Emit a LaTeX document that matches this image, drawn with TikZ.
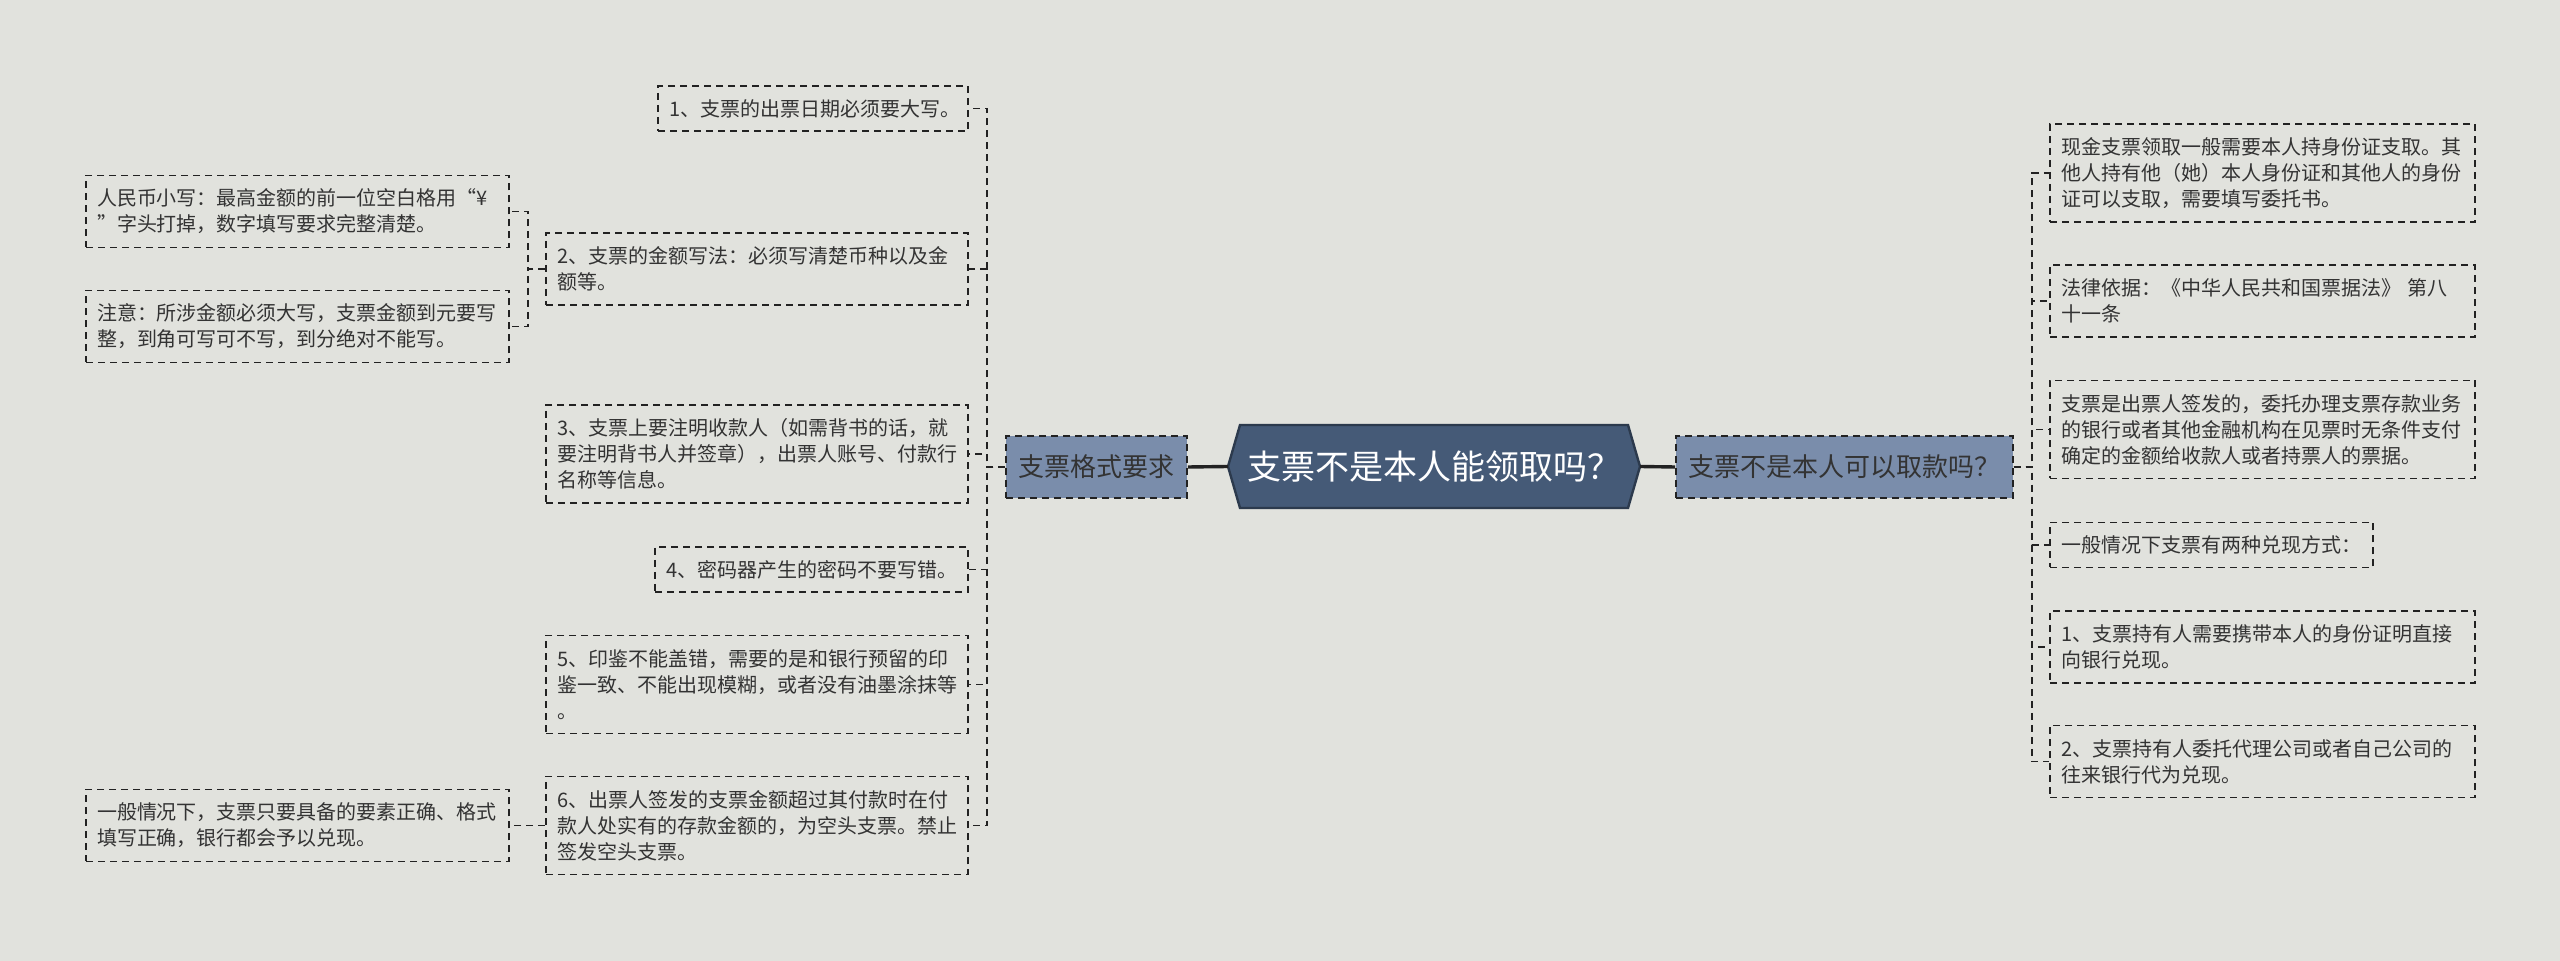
\documentclass[tikz,border=0pt]{standalone}
\usepackage{fontspec}
\setmainfont{Noto Sans CJK SC}
\definecolor{bg}{HTML}{E1E2DD}
\definecolor{mainfill}{HTML}{455A77}
\definecolor{mainborder}{HTML}{2C3A4D}
\definecolor{subfill}{HTML}{7A8DAB}
\definecolor{ink}{HTML}{333333}
\definecolor{linkc}{HTML}{222222}
\begin{document}
\begin{tikzpicture}[x=0.5pt,y=-0.5pt,
  leaf/.style={draw=linkc, line width=0.9pt, dash pattern=on 3.5pt off 2.5pt,
    inner xsep=5.5pt, inner ysep=0pt, align=left, text=ink, anchor=center,
    font=\fontsize{10pt}{13pt}\selectfont, text width=201pt},
  one/.style={minimum height=22.5pt},
  two/.style={minimum height=36pt},
  three/.style={minimum height=49pt},
  sub/.style={draw=linkc, line width=0.9pt, dash pattern=on 3.5pt off 2.5pt,
    fill=subfill, text=ink, inner sep=0pt, minimum height=31pt,
    font=\fontsize{13pt}{16pt}\selectfont},
  conn/.style={draw=linkc, line width=0.9pt, dash pattern=on 3.5pt off 2.5pt},
  mainlink/.style={draw=linkc, line width=1.7pt}
]
\fill[bg] (0,0) rectangle (2560,961);
\useasboundingbox (0,0) rectangle (2560,961);

% central hexagon
\fill[mainfill, draw=mainborder, line width=1.2pt]
  (1228,466.5) -- (1240,425) -- (1628,425) -- (1640,466.5) -- (1628,508) -- (1240,508) -- cycle;
\coordinate (cl) at (1228,466.5);
\coordinate (cr) at (1640,466.5);
\node[text=white, font=\fontsize{17pt}{20pt}\selectfont] (center) at (1434,466.5) {支票不是本人能领取吗？};

% first level
\node[sub, minimum width=90.5pt] (L) at (1096.5,467) {支票格式要求};
\node[sub, minimum width=168.5pt] (R) at (1844.5,467) {支票不是本人可以取款吗？};

\draw[mainlink] (L.east) -- (cl);
\draw[mainlink] (cr) -- (R.west);

% left leaves
\node[leaf, one, text width=144pt] (b1) at (813,108.5) {1、支票的出票日期必须要大写。};
\node[leaf, two, text width=200pt] (b2) at (757,269) {2、支票的金额写法：必须写清楚币种以及金\\额等。};
\node[leaf, three, text width=200pt] (b3) at (757,454) {3、支票上要注明收款人（如需背书的话，就\\要注明背书人并签章），出票人账号、付款行\\名称等信息。};
\node[leaf, one, text width=145.5pt] (b4) at (811.5,569.5) {4、密码器产生的密码不要写错。};
\node[leaf, three, text width=200pt] (b5) at (757,684.5) {5、印鉴不能盖错，需要的是和银行预留的印\\鉴一致、不能出现模糊，或者没有油墨涂抹等\\。};
\node[leaf, three, text width=200pt] (b6) at (757,825.5) {6、出票人签发的支票金额超过其付款时在付\\款人处实有的存款金额的，为空头支票。禁止\\签发空头支票。};

\node[leaf, two, text width=200.5pt] (a) at (297.5,211.5) {人民币小写：最高金额的前一位空白格用“¥\\”字头打掉，数字填写要求完整清楚。};
\node[leaf, two, text width=200.5pt] (bn) at (297.5,326.5) {注意：所涉金额必须大写，支票金额到元要写\\整，到角可写可不写，到分绝对不能写。};
\node[leaf, two, text width=200.5pt] (c) at (297.5,825.5) {一般情况下，支票只要具备的要素正确、格式\\填写正确，银行都会予以兑现。};

% right leaves
\node[leaf, three, text width=201.5pt] (r1) at (2262.5,173) {现金支票领取一般需要本人持身份证支取。其\\他人持有他（她）本人身份证和其他人的身份\\证可以支取，需要填写委托书。};
\node[leaf, two, text width=201.5pt] (r2) at (2262.5,301) {法律依据：《中华人民共和国票据法》 第八\\十一条};
\node[leaf, three, text width=201.5pt] (r3) at (2262.5,429.5) {支票是出票人签发的，委托办理支票存款业务\\的银行或者其他金融机构在见票时无条件支付\\确定的金额给收款人或者持票人的票据。};
\node[leaf, one, text width=150.5pt] (r4) at (2211.5,545) {一般情况下支票有两种兑现方式：};
\node[leaf, two, text width=201.5pt] (r5) at (2262.5,647) {1、支票持有人需要携带本人的身份证明直接\\向银行兑现。};
\node[leaf, two, text width=201.5pt] (r6) at (2262.5,761.5) {2、支票持有人委托代理公司或者自己公司的\\往来银行代为兑现。};

% buses
\coordinate (lbus) at (987,467);
\coordinate (b2bus) at (528,269);
\coordinate (rbus) at (2032,467);

\foreach \n in {b1,b2,b3,b4,b5,b6}{
  \draw[conn] (L.west) -- (lbus) |- (\n.east);
}
\foreach \n in {a,bn}{
  \draw[conn] (b2.west) -- (b2bus) |- (\n.east);
}
\draw[conn] (b6.west) -- (c.east);
\foreach \n in {r1,r2,r3,r4,r5,r6}{
  \draw[conn] (R.east) -- (rbus) |- (\n.west);
}
\end{tikzpicture}
\end{document}
